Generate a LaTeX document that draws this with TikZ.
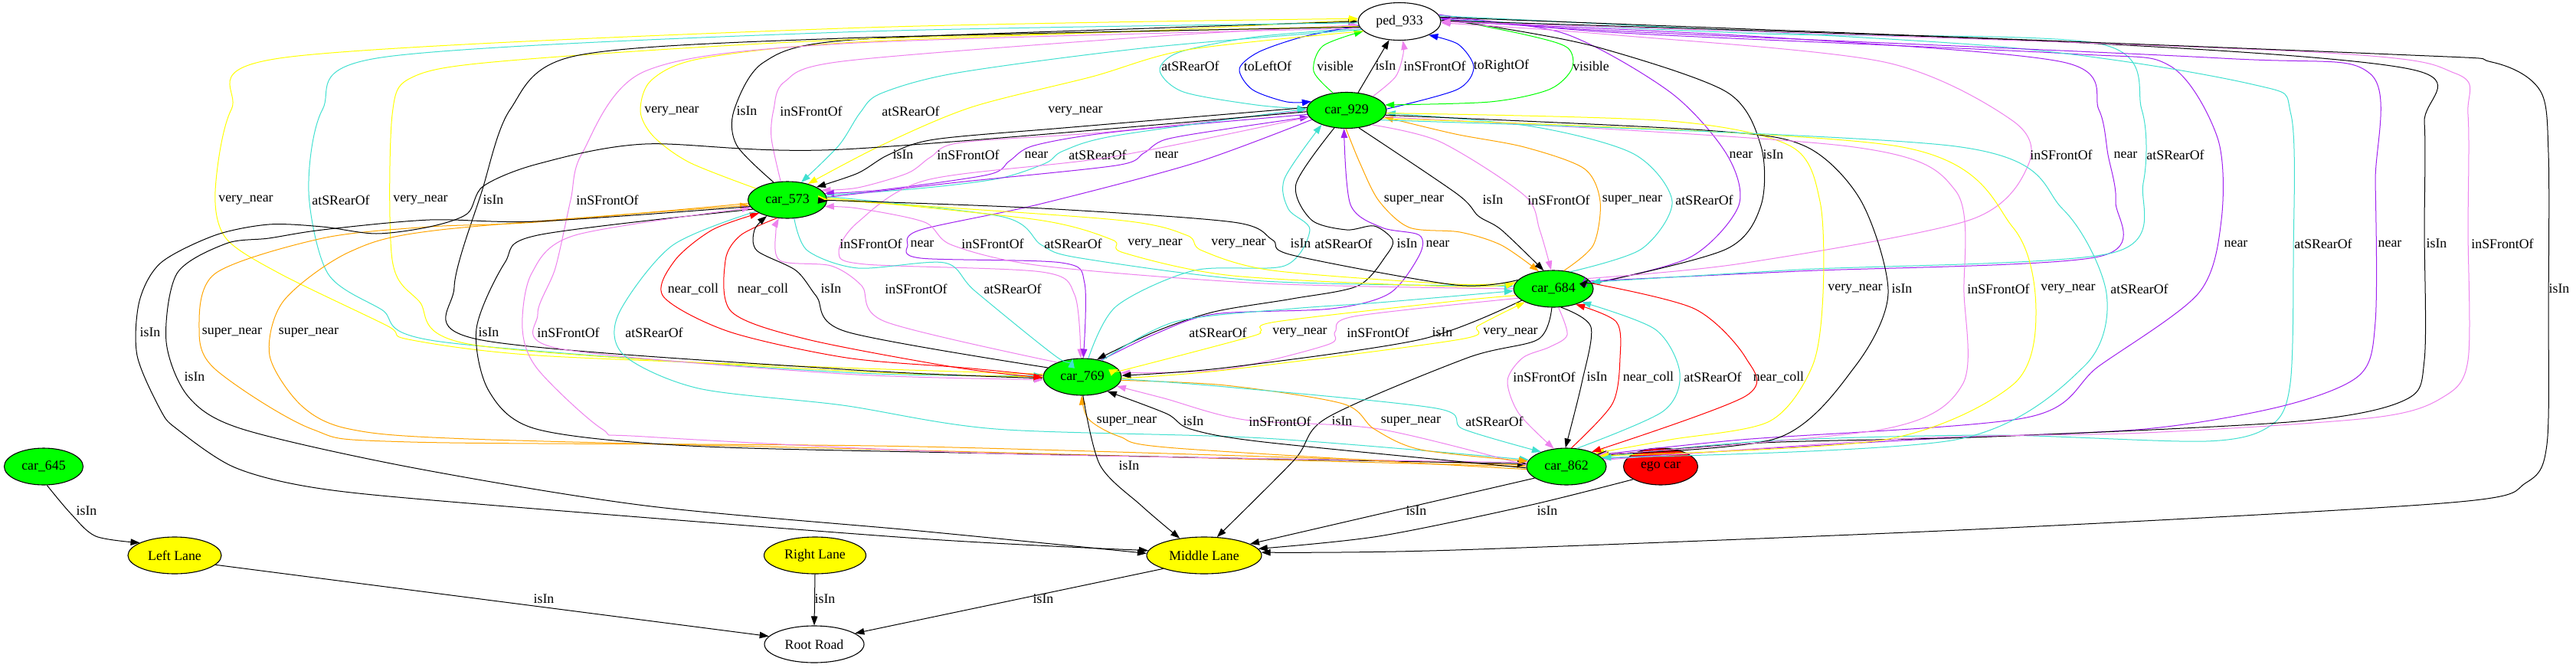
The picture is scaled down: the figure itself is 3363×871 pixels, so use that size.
\documentclass[tikz,border=0pt]{standalone}
\usepackage{fontspec}
\setmainfont{Liberation Serif}
\usetikzlibrary{shapes.geometric,arrows.meta}
\newcommand\gvfont{\fontsize{17.8pt}{20pt}\selectfont}
\definecolor{gvgreen}{RGB}{0,255,0}
\definecolor{gvyellow}{RGB}{255,255,0}
\definecolor{gvred}{RGB}{255,0,0}
\definecolor{gvturq}{RGB}{64,224,208}
\definecolor{gvviolet}{RGB}{238,130,238}
\definecolor{gvpurple}{RGB}{160,32,240}
\definecolor{gvorange}{RGB}{255,165,0}
\definecolor{gvblue}{RGB}{0,0,255}
\tikzset{
  gvnode/.style={ellipse, draw=black, line width=1.1pt, inner sep=0pt, font=\gvfont, minimum height=48pt},
  lb/.style={font=\gvfont, inner sep=0pt},
  gv/.style={line width=1pt, -{Triangle[length=12pt,width=8.5pt]}},
}
\newcommand\gedge[5]{\draw[gv,#1] plot[smooth] coordinates {#2}; \node[lb] (#3) at (#4) {#5};}
\begin{document}
\begin{tikzpicture}[x=1pt,y=-1pt]
\fill[white] (0,0) rectangle (3363,871);
\useasboundingbox (0,0) rectangle (3363,871);
% nodes
\node[gvnode, fill=white, minimum width=108pt, minimum height=49pt] (P) at (1827,28) {ped\_933};
\node[gvnode, fill=gvgreen, minimum width=104pt, minimum height=47pt] (A) at (1758,144) {car\_929};
\node[gvnode, fill=gvgreen, minimum width=103pt] (B) at (1028,261) {car\_573};
\node[gvnode, fill=gvgreen, minimum width=104pt] (C) at (2028,377) {car\_684};
\node[gvnode, fill=gvgreen, minimum width=102pt] (D) at (1413,492) {car\_769};
\node[gvnode, fill=gvgreen, minimum width=104pt] (E) at (2045,609) {car\_862};
\node[gvnode, fill=gvred, minimum width=97pt] (G) at (2168,609) {ego car};
\node[gvnode, fill=gvgreen, minimum width=103pt] (F) at (57,609) {car\_645};
\node[gvnode, fill=gvyellow, minimum width=122pt] (LL) at (228,725) {Left Lane};
\node[gvnode, fill=gvyellow, minimum width=133pt] (RL) at (1064,725) {Right Lane};
\node[gvnode, fill=gvyellow, minimum width=150pt] (ML) at (1572,725) {Middle Lane};
\node[gvnode, fill=white, minimum width=130pt] (RR) at (1063,841) {Root Road};
% P <-> A
\gedge{gvturq}{(P.190) (1640,48) (1540,68) (1514,92) (1545,120) (1640,137) (A.178)}{l1}{1554,86}{atSRearOf}
\gedge{gvblue}{(P.186) (1701,48) (1643,68) (1618,90) (1635,117) (1680,133) (A.166)}{l2}{1655,86}{toLeftOf}
\gedge{gvgreen}{(A.128) (1715,93) (1727,60) (P.195)}{l3}{1743,86}{visible}
\gedge{black}{(A.57) (P.241)}{l4}{1809,86}{isIn}
\gedge{gvviolet}{(A.28) (1822,100) (1832,70) (P.280)}{l5}{1873,86}{inSFrontOf}
\gedge{gvblue}{(A.2) (1902,117) (1924,88) (1904,58) (P.335)}{l6}{1960,86}{toRightOf}
\gedge{gvgreen}{(P.5) (1990,45) (2046,62) (2052,90) (2022,117) (1945,133) (A.8)}{l7}{2077,86}{visible}
% P <-> B
\gedge{gvyellow}{(B.160) (900,212) (853,178) (836,145) (850,105) (912,77) (1100,56) (1500,40) (P.178)}{l8}{877,145}{very\_near}
\gedge{black}{(B.128) (962,190) (958,145) (996,82) (1100,53) (1500,37) (P.180)}{l9}{975,145}{isIn}
\gedge{gvviolet}{(B.110) (1007,180) (1010,143) (1024,107) (1100,80) (1500,48) (P.185)}{l10}{1059,145}{inSFrontOf}
\gedge{gvturq}{(P.192) (1500,62) (1250,95) (1150,122) (1123,147) (1095,190) (B.52)}{l11}{1189,145}{atSRearOf}
\gedge{gvyellow}{(P.195) (1550,65) (1426,100) (1268,140) (1150,190) (B.38)}{l12}{1404,145}{very\_near}
% A <-> B
\gedge{black}{(A.176) (1400,166) (1220,182) (1160,202) (1120,226) (B.24)}{l13}{1179,202}{isIn}
\gedge{gvviolet}{(A.180) (1450,172) (1255,186) (1215,205) (1185,226) (1120,245) (B.16)}{l14}{1264,202}{inSFrontOf}
\gedge{gvpurple}{(A.186) (1457,172) (1350,190) (1318,210) (1290,228) (1150,248) (B.10)}{l15}{1353,202}{near}
\gedge{gvturq}{(B.7) (1200,246) (1304,233) (1365,213) (1388,197) (1457,177) (A.178)}{l16}{1433,202}{atSRearOf}
\gedge{gvpurple}{(B.4) (1250,238) (1457,216) (1493,200) (1522,182) (1610,167) (A.190)}{l17}{1523,202}{near}
% P <-> C
\gedge{gvpurple}{(P.5) (2040,43) (2180,120) (2254,201) (2270,268) (2208,335) (2087,368) (C.20)}{l18}{2273,202}{near}
\gedge{black}{(P.2) (1950,35) (2087,62) (2254,120) (2299,191) (2299,268) (2254,325) (2090,368) (C.15)}{l19}{2315,202}{isIn}
\gedge{gvviolet}{(C.17) (2273,344) (2572,287) (2648,215) (2628,158) (2460,81) (2100,45) (P.358)}{l20}{2691,202}{inSFrontOf}
\gedge{gvpurple}{(C.12) (2348,354) (2740,335) (2762,263) (2752,202) (2740,143) (2693,81) (2300,48) (P.0)}{l21}{2775,202}{near}
\gedge{gvturq}{(P.3) (2300,44) (2740,57) (2796,143) (2798,239) (2758,330) (2348,352) (C.10)}{l22}{2840,202}{atSRearOf}
% P <-> D (far left)
\gedge{gvyellow}{(D.176) (1100,480) (702,464) (533,443) (505,425) (365,357) (295,311) (281,250) (302,143) (372,75) (1100,37) (P.176)}{l23}{321,261}{very\_near}
\gedge{gvturq}{(P.182) (1100,42) (498,75) (421,143) (403,250) (428,357) (498,404) (575,446) (1100,486) (D.178)}{l24}{445,261}{atSRearOf}
\gedge{gvyellow}{(P.187) (1100,52) (666,79) (540,100) (512,150) (512,339) (547,393) (617,450) (1100,484) (D.180)}{l25}{549,261}{very\_near}
\gedge{black}{(P.188) (1100,50) (751,73) (666,143) (629,250) (593,375) (624,443) (1100,482) (D.182)}{l26}{644,261}{isIn}
\gedge{gvviolet}{(P.190) (1100,57) (842,93) (760,200) (745,261) (725,350) (702,410) (730,455) (1100,488) (D.184)}{l27}{793,261}{inSFrontOf}
% A <-> C
\gedge{gvorange}{(A.268) (1775,212) (1800,262) (1840,297) (1906,303) (1960,320) (C.130)}{l28}{1846,261}{super\_near}
\gedge{black}{(A.305) (1902,253) (1930,282) (1960,300) (C.118)}{l29}{1949,261}{isIn}
\gedge{gvviolet}{(A.330) (1880,185) (1990,255) (2010,300) (C.97)}{l30}{2035,261}{inSFrontOf}
\gedge{gvorange}{(C.60) (2080,320) (2089,263) (2068,220) (1990,192) (1900,175) (A.350)}{l31}{2131,261}{super\_near}
\gedge{gvturq}{(C.45) (2143,325) (2183,263) (2133,201) (2000,165) (A.356)}{l32}{2225,261}{atSRearOf}
% A <-> D
\gedge{gvviolet}{(A.190) (1450,205) (1210,235) (1120,290) (1095,330) (1130,345) (1360,355) (1403,385) (D.95)}{l33}{1137,318}{inSFrontOf}
\gedge{gvpurple}{(A.195) (1559,213) (1355,267) (1202,300) (1185,320) (1202,337) (1386,343) (1416,370) (D.87)}{l34}{1204,318}{near}
\gedge{gvturq}{(D.72) (1457,400) (1559,353) (1677,347) (1710,300) (1682,273) (1677,233) (A.210)}{l35}{1754,318}{atSRearOf}
\gedge{black}{(A.235) (1692,240) (1712,287) (1758,300) (1794,295) (1818,313) (1810,333) (1773,373) (1687,390) (1585,407) (1508,433) (D.50)}{l36}{1837,318}{isIn}
\gedge{gvpurple}{(D.42) (1508,436) (1585,410) (1738,403) (1814,383) (1853,333) (1853,307) (1804,297) (1763,267) (A.262)}{l37}{1877,318}{near}
% B <-> C
\gedge{gvviolet}{(C.180) (1650,370) (1360,347) (1243,320) (1207,290) (1120,272) (B.350)}{l38}{1296,318}{inSFrontOf}
\gedge{gvturq}{(B.5) (1309,283) (1360,320) (1411,337) (1650,367) (C.176)}{l39}{1401,318}{atSRearOf}
\gedge{gvyellow}{(B.3) (1355,287) (1452,313) (1467,330) (1610,360) (1900,374) (C.172)}{l40}{1508,318}{very\_near}
\gedge{gvyellow}{(C.170) (1900,371) (1661,353) (1569,327) (1549,307) (1457,287) (1100,262) (B.1)}{l41}{1617,318}{very\_near}
\gedge{black}{(C.166) (1900,372) (1687,333) (1661,313) (1610,290) (1360,272) (1100,262) (B.358)}{l42}{1698,318}{isIn}
% P <-> E (far right)
\gedge{gvpurple}{(P.10) (2100,42) (2700,70) (2833,86) (2895,180) (2900,287) (2870,383) (2740,478) (2646,545) (2273,574) (E.20)}{l43}{2919,318}{near}
\gedge{gvturq}{(P.8) (2600,60) (2940,110) (2991,150) (2994,335) (2990,500) (2965,555) (2880,576) (2600,568) (2300,576) (E.15)}{l44}{3033,318}{atSRearOf}
\gedge{gvpurple}{(E.12) (2500,574) (2800,560) (2980,530) (3080,490) (3101,420) (3101,239) (3094,96) (2900,76) (2100,40) (P.4)}{l45}{3120,318}{near}
\gedge{black}{(P.1) (2700,55) (3150,91) (3165,160) (3165,300) (3165,470) (3140,522) (3000,550) (2600,570) (2300,578) (E.18)}{l46}{3181,318}{isIn}
\gedge{gvviolet}{(E.10) (2500,572) (2800,565) (3100,545) (3190,518) (3222,470) (3222,300) (3222,150) (3206,96) (3000,67) (P.0)}{l47}{3267,318}{inSFrontOf}
% A <-> E
\gedge{gvyellow}{(A.356) (2180,158) (2338,191) (2376,263) (2380,383) (2366,478) (2310,550) (2180,574) (E.25)}{l48}{2422,377}{very\_near}
\gedge{black}{(A.353) (2226,170) (2357,191) (2430,263) (2465,383) (2422,478) (2320,572) (E.22)}{l49}{2483,377}{isIn}
\gedge{gvviolet}{(A.350) (2413,191) (2553,249) (2564,383) (2562,502) (2460,560) (E.20)}{l50}{2609,377}{inSFrontOf}
\gedge{gvyellow}{(A.347) (2478,191) (2628,297) (2658,407) (2628,502) (2460,574) (E.18)}{l51}{2700,377}{very\_near}
\gedge{gvturq}{(A.344) (2553,191) (2693,273) (2750,383) (2721,478) (2553,574) (E.14)}{l52}{2793,377}{atSRearOf}
\gedge{black}{(P.6) (3100,70) (3253,81) (3316,118) (3327,200) (3327,400) (3325,580) (3298,630) (3200,656) (2600,690) (1900,718) (ML.3)}{l53}{3341,377}{isIn}
% B <-> D
\gedge{gvred}{(D.178) (1258,480) (1105,467) (952,433) (866,387) (881,340) (930,300) (B.205)}{l54}{905,377}{near\_coll}
\gedge{gvred}{(B.240) (967,307) (947,340) (955,407) (1054,443) (1250,480) (D.181)}{l55}{996,377}{near\_coll}
\gedge{black}{(D.165) (1105,433) (1066,387) (1039,353) (988,327) (985,300) (B.218)}{l56}{1085,377}{isIn}
\gedge{gvviolet}{(D.150) (1156,420) (1125,373) (1085,347) (1018,340) (1013,300) (B.245)}{l57}{1196,377}{inSFrontOf}
\gedge{gvturq}{(B.290) (1054,327) (1120,350) (1233,343) (1273,380) (1381,467) (D.118)}{l58}{1322,377}{atSRearOf}
% C <-> D
\gedge{gvturq}{(D.40) (1534,420) (1687,403) (1800,395) (C.183)}{l59}{1590,434}{atSRearOf}
\gedge{gvyellow}{(C.190) (1900,393) (1666,420) (1646,432) (1631,440) (1467,483) (D.12)}{l60}{1697,434}{very\_near}
\gedge{gvviolet}{(C.195) (1768,413) (1743,433) (1733,450) (1600,482) (D.6)}{l61}{1799,434}{inSFrontOf}
\gedge{black}{(C.200) (1855,443) (1600,480) (D.2)}{l62}{1883,434}{isIn}
\gedge{gvyellow}{(D.358) (1600,483) (1906,443) (1930,425) (C.205)}{l63}{1972,434}{very\_near}
% B <-> E (far left)
\gedge{gvorange}{(B.185) (700,290) (561,296) (421,311) (281,357) (260,429) (281,482) (407,560) (536,577) (1200,583) (E.178)}{l64}{303,434}{super\_near}
\gedge{gvorange}{(E.180) (1200,588) (612,573) (456,560) (393,529) (352,464) (370,393) (456,329) (575,300) (B.188)}{l65}{403,434}{super\_near}
\gedge{black}{(B.195) (702,307) (659,343) (622,429) (638,510) (700,560) (900,582) (1300,592) (E.176)}{l66}{638,434}{isIn}
\gedge{gvviolet}{(E.174) (1300,592) (842,570) (786,560) (702,482) (682,429) (694,357) (751,307) (B.192)}{l67}{742,434}{inSFrontOf}
\gedge{gvturq}{(B.200) (877,321) (807,411) (815,464) (912,507) (1100,529) (1300,560) (1650,572) (E.170)}{l68}{854,434}{atSRearOf}
% to Middle Lane (long)
\gedge{black}{(A.182) (1100,195) (842,188) (702,214) (631,243) (610,279) (561,296) (491,305) (421,296) (351,293) (281,307) (210,343) (182,393) (179,464) (210,536) (231,560) (306,610) (413,637) (612,657) (1200,703) (ML.175)}{l69}{196,434}{isIn}
\gedge{black}{(B.190) (702,289) (561,287) (421,300) (351,311) (295,318) (231,357) (217,446) (246,518) (316,560) (536,610) (842,660) (1200,693) (ML.178)}{l70}{254,492}{isIn}
% C <-> E
\gedge{gvviolet}{(C.285) (2046,437) (2023,453) (1988,467) (1968,497) (1983,540) (E.125)}{l71}{2016,492}{inSFrontOf}
\gedge{black}{(C.292) (2077,427) (2065,500) (E.93)}{l72}{2085,492}{isIn}
\gedge{gvred}{(E.75) (2105,527) (2115,467) (2110,420) (C.325)}{l73}{2152,492}{near\_coll}
\gedge{gvturq}{(E.60) (2171,537) (2193,487) (2161,430) (C.335)}{l74}{2236,492}{atSRearOf}
\gedge{gvred}{(C.8) (2212,403) (2279,467) (2279,517) (E.30)}{l75}{2322,492}{near\_coll}
% D <-> E and C -> ML
\gedge{black}{(C.265) (2008,443) (1916,467) (1733,545) (1690,600) (ML.55)}{l76}{1752,550}{isIn}
\gedge{gvorange}{(E.184) (1535,585) (1462,570) (1421,547) (D.268)}{l77}{1471,550}{super\_near}
\gedge{black}{(E.182) (1650,577) (1554,560) (1523,540) (D.330)}{l78}{1558,550}{isIn}
\gedge{gvviolet}{(E.178) (1800,560) (1625,548) (1520,520) (D.345)}{l79}{1671,550}{inSFrontOf}
\gedge{gvorange}{(D.355) (1600,503) (1753,527) (1794,560) (1855,587) (E.172)}{l80}{1842,550}{super\_near}
\gedge{gvturq}{(D.357) (1600,505) (1875,533) (1910,560) (E.150)}{l81}{1951,550}{atSRearOf}
% lanes
\gedge{black}{(D.272) (1436,607) (1490,660) (ML.145)}{l82}{1474,608}{isIn}
\gedge{black}{(E.200) (ML.14)}{l83}{1849,667}{isIn}
\gedge{black}{(G.205) (1995,660) (1800,700) (ML.7)}{l84}{2020,667}{isIn}
\gedge{black}{(F.280) (92,670) (125,700) (LL.160)}{l85}{113,667}{isIn}
\gedge{black}{(LL.347) (RR.170)}{l86}{710,782}{isIn}
\gedge{black}{(RL.270) (RR.90)}{l87}{1077,782}{isIn}
\gedge{black}{(ML.198) (RR.15)}{l88}{1362,782}{isIn}
\end{tikzpicture}
\end{document}
